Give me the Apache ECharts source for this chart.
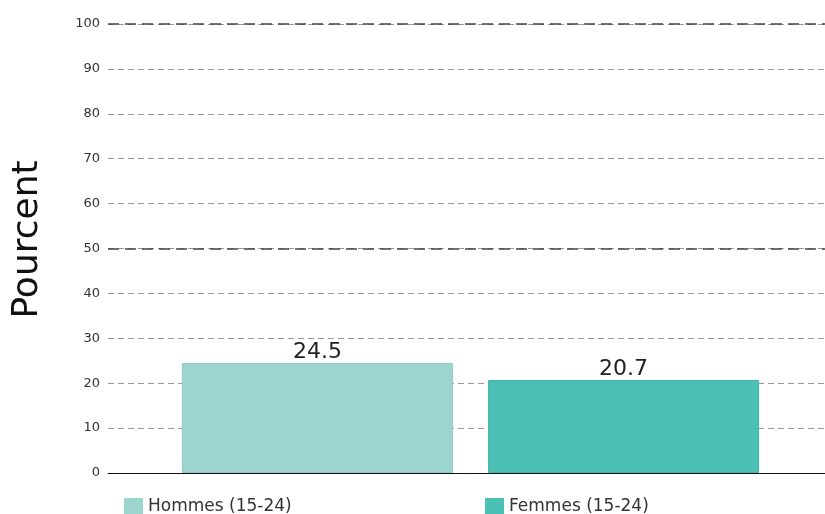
<!DOCTYPE html>
<html>
<head>
<meta charset="utf-8">
<script src="https://cdn.jsdelivr.net/npm/echarts@6/dist/echarts.min.js"></script>
<style>
  html, body { margin: 0; padding: 0; background: #fff; }
  #chart { width: 825px; height: 514px; }
</style>
</head>
<body>
<div id="chart"></div>
<script>
// données
var categories = ['15-24'];
var seriesNames = ['Hommes (15-24)', 'Femmes (15-24)'];
var hommes = [24.5];
var femmes = [20.7];
var darkLines = [50, 100];

var colors = ['#9bd5ce', '#4bc0b5'];
var chartDom = document.getElementById('chart');
var myChart = echarts.init(chartDom);

var labelStyle = {
    show: true,
    position: 'top',
    distance: 0,
    color: '#222',
    fontSize: 22,
    fontFamily: 'DejaVu Sans'
};

var legendText = { fontSize: 17, color: '#333', fontFamily: 'DejaVu Sans' };

var option = {
    animation: false,
    color: colors,
    textStyle: { fontFamily: 'DejaVu Sans' },
    grid: {
        left: 108,
        right: -8,
        top: 24,
        bottom: 41,
        outerBoundsMode: 'none'
    },
    legend: [
        {
            data: [seriesNames[0]],
            left: 119,
            top: 493,
            itemWidth: 19,
            itemHeight: 17,
            itemGap: 6,
            icon: 'rect',
            itemStyle: { borderWidth: 0 },
            textStyle: legendText
        },
        {
            data: [seriesNames[1]],
            left: 480,
            top: 493,
            itemWidth: 19,
            itemHeight: 17,
            icon: 'rect',
            itemStyle: { borderWidth: 0 },
            textStyle: legendText
        }
    ],
    xAxis: {
        type: 'category',
        data: categories,
        axisLine: { lineStyle: { color: '#111', width: 1 } },
        axisTick: { show: false },
        axisLabel: { show: false }
    },
    yAxis: {
        type: 'value',
        min: 0,
        max: 100,
        interval: 10,
        name: 'Pourcent',
        nameLocation: 'middle',
        nameGap: 62,
        nameTextStyle: { fontSize: 36, color: '#111', fontFamily: 'DejaVu Sans', padding: [0, 0, 0, 18] },
        axisLine: { show: false },
        axisTick: { show: false },
        axisLabel: { fontSize: 13, color: '#333', margin: 8 },
        splitLine: {
            lineStyle: { color: '#999', type: [6, 4], width: 1 }
        }
    },
    series: [
        {
            name: seriesNames[0],
            type: 'bar',
            data: hommes,
            barWidth: 271,
            barGap: '13%',
            itemStyle: { borderColor: '#8ccbc3', borderWidth: 1 },
            label: labelStyle,
            markLine: {
                silent: true,
                symbol: 'none',
                label: { show: false },
                lineStyle: { color: '#444', type: [11, 6], width: 1.6 },
                data: darkLines.map(function (v) { return { yAxis: v }; })
            }
        },
        {
            name: seriesNames[1],
            type: 'bar',
            data: femmes,
            barWidth: 271,
            itemStyle: { borderColor: '#3fb2a7', borderWidth: 1 },
            label: labelStyle
        }
    ]
};
myChart.setOption(option);
</script>
</body>
</html>
